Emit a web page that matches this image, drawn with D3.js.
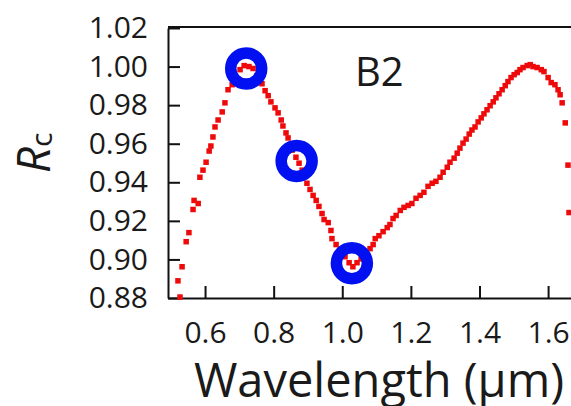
<!DOCTYPE html>
<html>
<head>
<meta charset="utf-8">
<script src="https://cdn.jsdelivr.net/npm/d3@7"></script>
<style>
  html, body { margin: 0; padding: 0; background: #fff; }
  svg { display: block; }
  text { font-family: "Open Sans", "Noto Sans", sans-serif; fill: #1a1a1a; }
</style>
</head>
<body>
<svg id="chart" width="571" height="406"></svg>
<script>
// Measured reflectance spectrum (wavelength in µm, normalized Rc)
const wavelength = [
  0.521, 0.527, 0.533, 0.545, 0.553, 0.565, 0.568, 0.580, 0.585, 0.594,
  0.603, 0.612, 0.617, 0.623, 0.629, 0.638, 0.650, 0.658, 0.667, 0.679,
  0.690, 0.702, 0.714, 0.728, 0.740, 0.752, 0.766, 0.775, 0.784, 0.792,
  0.804, 0.813, 0.822, 0.827, 0.836, 0.842, 0.854, 0.865, 0.874, 0.883,
  0.892, 0.897, 0.906, 0.915, 0.924, 0.932, 0.941, 0.947, 0.959, 0.967,
  0.970, 0.982, 0.994, 1.008, 1.020, 1.031, 1.043, 1.055, 1.069, 1.081,
  1.090, 1.096, 1.107, 1.119, 1.131, 1.139, 1.148, 1.157, 1.169, 1.180,
  1.192, 1.203, 1.215, 1.227, 1.238, 1.250, 1.262, 1.273, 1.285, 1.294,
  1.306, 1.314, 1.326, 1.335, 1.343, 1.352, 1.361, 1.370, 1.378, 1.387,
  1.396, 1.405, 1.413, 1.422, 1.431, 1.440, 1.448, 1.457, 1.466, 1.475,
  1.483, 1.492, 1.501, 1.510, 1.518, 1.527, 1.539, 1.548, 1.556, 1.568,
  1.580, 1.588, 1.600, 1.609, 1.620, 1.629, 1.635, 1.641, 1.650, 1.658,
  1.661
];
const rc = [
  0.8889, 0.8805, 0.8962, 0.9092, 0.9139, 0.9259, 0.9306, 0.9290, 0.9426, 0.9463,
  0.9504, 0.9562, 0.9588, 0.9635, 0.9687, 0.9723, 0.9765, 0.9812, 0.9880, 0.9906,
  0.9943, 0.9984, 1.0005, 1.0000, 0.9990, 0.9953, 0.9911, 0.9875, 0.9849, 0.9817,
  0.9786, 0.9760, 0.9723, 0.9692, 0.9656, 0.9630, 0.9567, 0.9530, 0.9499, 0.9463,
  0.9431, 0.9395, 0.9363, 0.9332, 0.9306, 0.9275, 0.9238, 0.9207, 0.9191, 0.9150,
  0.9108, 0.9077, 0.9050, 0.9014, 0.8983, 0.8962, 0.8983, 0.9003, 0.9035, 0.9056,
  0.9077, 0.9108, 0.9123, 0.9144, 0.9165, 0.9181, 0.9212, 0.9228, 0.9254, 0.9270,
  0.9280, 0.9290, 0.9317, 0.9332, 0.9348, 0.9379, 0.9395, 0.9405, 0.9426, 0.9452,
  0.9478, 0.9504, 0.9525, 0.9551, 0.9577, 0.9603, 0.9624, 0.9650, 0.9671, 0.9687,
  0.9713, 0.9734, 0.9755, 0.9776, 0.9797, 0.9817, 0.9838, 0.9859, 0.9880, 0.9901,
  0.9922, 0.9943, 0.9958, 0.9969, 0.9984, 0.9995, 1.0005, 1.0010, 1.0000, 0.9995,
  0.9984, 0.9974, 0.9943, 0.9917, 0.9906, 0.9880, 0.9854, 0.9812, 0.9708, 0.9489,
  0.9243
];

// Highlighted operating points
const markWavelength = [0.72, 0.867, 1.028];
const markRc = [0.999, 0.951, 0.898];

const xTicks = [0.6, 0.8, 1.0, 1.2, 1.4, 1.6];
const yTicks = [0.88, 0.90, 0.92, 0.94, 0.96, 0.98, 1.00, 1.02];

const panelLabel = "B2";
const xTitle = "Wavelength (μm)";

const svg = d3.select("#chart");
const plotLeft = 168, plotRight = 580, plotTop = 27, plotBottom = 298;

const x = d3.scaleLinear().domain([0.492, 1.693]).range([plotLeft, plotRight]);
const y = d3.scaleLinear().domain([0.88, 1.02]).range([plotBottom, plotTop + 1]);

// Frame: top edge
svg.append("line")
  .attr("x1", plotLeft).attr("x2", plotRight)
  .attr("y1", plotTop).attr("y2", plotTop)
  .attr("stroke", "#111").attr("stroke-width", 2);

// Y axis with inward ticks
const yAxis = svg.append("g")
  .attr("transform", `translate(${plotLeft},0)`)
  .call(d3.axisLeft(y).tickValues(yTicks).tickFormat(d3.format(".2f"))
    .tickSize(-12).tickSizeOuter(0).tickPadding(20));
yAxis.select(".domain").attr("stroke", "#111").attr("stroke-width", 2);
yAxis.selectAll(".tick line").attr("stroke", "#111").attr("stroke-width", 2);
yAxis.selectAll(".tick text").style("font-size", "30px").attr("fill", "#1a1a1a");

// X axis with inward ticks
const xAxis = svg.append("g")
  .attr("transform", `translate(0,${plotBottom})`)
  .call(d3.axisBottom(x).tickValues(xTicks).tickFormat(d3.format(".1f"))
    .tickSize(-12).tickSizeOuter(0).tickPadding(24));
xAxis.select(".domain").attr("stroke", "#111").attr("stroke-width", 2);
xAxis.selectAll(".tick line").attr("stroke", "#111").attr("stroke-width", 2);
xAxis.selectAll(".tick text").style("font-size", "30px").attr("fill", "#1a1a1a");

// Measured points as small red squares
const sq = 5.5;
svg.append("g")
  .selectAll("rect")
  .data(wavelength.map((w, i) => ({ w, r: rc[i] })))
  .join("rect")
  .attr("x", d => x(d.w) - sq / 2)
  .attr("y", d => y(d.r) - sq / 2)
  .attr("width", sq)
  .attr("height", sq)
  .attr("fill", "#ee0a0a");

// Blue rings around the highlighted points
svg.append("g")
  .selectAll("circle")
  .data(markWavelength.map((w, i) => ({ w, r: markRc[i] })))
  .join("circle")
  .attr("cx", d => x(d.w))
  .attr("cy", d => y(d.r))
  .attr("r", 15.5)
  .attr("fill", "none")
  .attr("stroke", "#0010f0")
  .attr("stroke-width", 11.5);

// Panel label
svg.append("text")
  .attr("x", 355).attr("y", 86)
  .style("font-size", "40px")
  .text(panelLabel);

// Axis titles
svg.append("text")
  .attr("x", 379).attr("y", 397)
  .attr("text-anchor", "middle")
  .style("font-size", "47px")
  .text(xTitle);

const yTitle = svg.append("text")
  .attr("transform", "translate(50,153) rotate(-90)")
  .attr("text-anchor", "middle");
yTitle.append("tspan").style("font-size", "46px").style("font-style", "italic").text("R");
yTitle.append("tspan").style("font-size", "30px").attr("dy", 2).text("c");
</script>
</body>
</html>
